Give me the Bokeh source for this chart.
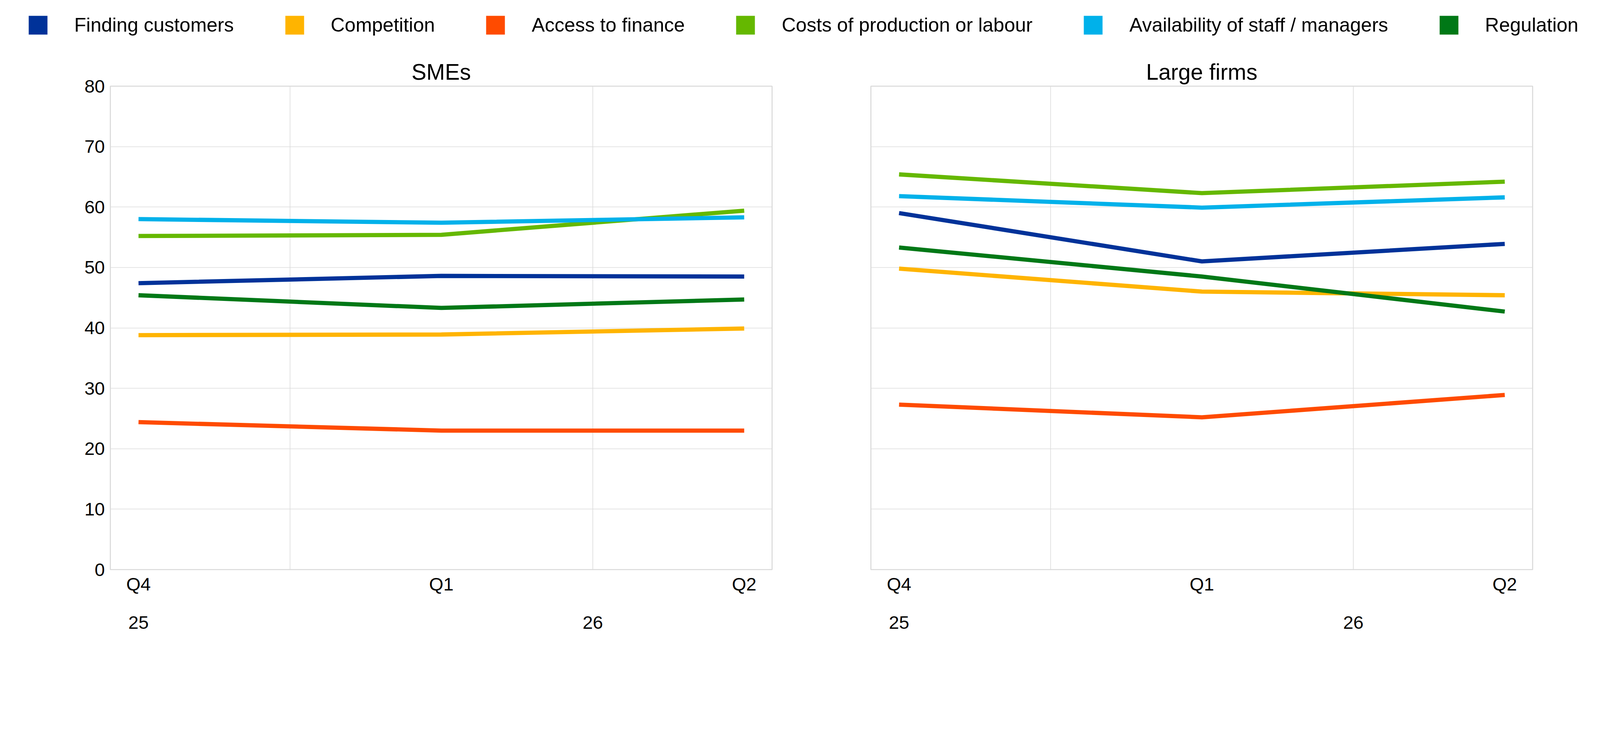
from bokeh.plotting import figure
from bokeh.layouts import column, row
from bokeh.models import Range1d, FixedTicker, LinearAxis, Legend, LegendItem
from bokeh.embed import file_html
from bokeh.resources import INLINE

FONT = "Liberation Sans"
S = 0.87  # css px per reference px


def px(v):
    return int(round(v * S))


quarters = ["Q4", "Q1", "Q2"]
years = ["25", "26"]
year_ticks = [0, 1.5]

series = ["Finding customers", "Competition", "Access to finance",
          "Costs of production or labour", "Availability of staff / managers", "Regulation"]
colors = ["#003299", "#ffb400", "#ff4b00", "#65b800", "#00b1ea", "#007816"]

# SMEs
sme_finding = [47.4, 48.6, 48.5]
sme_competition = [38.8, 38.9, 39.9]
sme_finance = [24.4, 23.0, 23.0]
sme_costs = [55.2, 55.4, 59.4]
sme_staff = [58.0, 57.4, 58.3]
sme_regulation = [45.4, 43.3, 44.7]

# Large firms
large_finding = [59.0, 51.0, 53.9]
large_competition = [49.8, 46.0, 45.4]
large_finance = [27.3, 25.2, 28.9]
large_costs = [65.4, 62.3, 64.2]
large_staff = [61.8, 59.9, 61.6]
large_regulation = [53.3, 48.5, 42.7]

sme = [sme_finding, sme_competition, sme_finance, sme_costs, sme_staff, sme_regulation]
large = [large_finding, large_competition, large_finance, large_costs, large_staff, large_regulation]

# layout (css px)
TOP = 8
LEG_H = px(158) - TOP
PLOT_TOP = TOP + LEG_H
PH = px(1891) - 8 - PLOT_TOP
FW = px(1947)
L1 = px(333) - 8
R1 = px(2571) - px(2280) - 40
L2 = 40
R2 = (px(4716) - 8) - (px(2571) + FW)
W1 = L1 + FW + R1
W2 = L2 + FW + R2
BORDER_TOP = px(253) - PLOT_TOP + 8
BORDER_BOTTOM = PH - (px(1681) - PLOT_TOP) - 3


def panel(title, data, width, left, right, show_y):
    p = figure(width=width, height=PH, title=title,
               x_range=Range1d(-0.093, 2.092), y_range=Range1d(0, 80),
               output_backend="svg", toolbar_location=None,
               min_border_left=left, min_border_right=right,
               min_border_top=BORDER_TOP, min_border_bottom=BORDER_BOTTOM)
    xs = list(range(len(quarters)))
    for vals, c in zip(data, colors):
        p.line(xs, vals, line_color=c, line_width=10.8)

    p.title.text_font = FONT
    p.title.text_font_size = "57px"
    p.title.text_font_style = "normal"
    p.title.align = "center"
    p.title.text_color = "black"

    p.outline_line_color = "#d9d9d9"
    p.outline_line_width = 2.6
    p.xgrid.ticker = FixedTicker(ticks=[0.5, 1.5])
    p.ygrid.ticker = FixedTicker(ticks=list(range(0, 81, 10)))
    p.grid.grid_line_color = "#dcdcdc"
    p.grid.grid_line_width = 1.7

    xa = p.xaxis[0]
    xa.ticker = FixedTicker(ticks=xs)
    xa.major_label_overrides = {i: q for i, q in enumerate(quarters)}
    ya2 = LinearAxis(ticker=FixedTicker(ticks=year_ticks),
                     major_label_overrides=dict(zip(year_ticks, years)))
    p.add_layout(ya2, "below")
    for ax in (xa, ya2):
        ax.axis_line_color = None
        ax.major_tick_line_color = None
        ax.minor_tick_line_color = None
        ax.major_tick_out = 0
        ax.major_label_text_font = FONT
        ax.major_label_text_font_size = "47px"
        ax.major_label_text_color = "black"
    xa.major_label_standoff = 10
    ya2.major_label_standoff = 53

    ya = p.yaxis[0]
    if show_y:
        ya.ticker = FixedTicker(ticks=list(range(0, 81, 10)))
        ya.axis_line_color = None
        ya.major_tick_line_color = None
        ya.minor_tick_line_color = None
        ya.major_tick_out = 0
        ya.major_label_standoff = 14
        ya.major_label_text_font = FONT
        ya.major_label_text_font_size = "47px"
        ya.major_label_text_color = "black"
    else:
        ya.visible = False
    return p


p1 = panel("SMEs", sme, W1, L1, R1, True)
p2 = panel("Large firms", large, W2, L2, R2, False)

nan = float("nan")
lf = figure(width=W1 + W2, height=LEG_H, x_axis_type=None, y_axis_type=None,
            x_range=Range1d(0, 1), y_range=Range1d(0, 1),
            output_backend="svg", toolbar_location=None, min_border=0)
lf.outline_line_color = None
items = []
for name, c in zip(series, colors):
    r = lf.quad(left=[nan], right=[nan], top=[nan], bottom=[nan],
                fill_color=c, line_color=None)
    items.append(LegendItem(label=name, renderers=[r]))
leg = Legend(items=items, orientation="horizontal", location=(67, 35),
             glyph_width=60, glyph_height=60, label_height=60,
             label_standoff=63, spacing=125, padding=0, margin=0,
             border_line_color=None, background_fill_alpha=0,
             label_text_font=FONT, label_text_font_size="50px",
             label_text_color="black")
lf.add_layout(leg, "center")

page = column(lf, row(p1, p2))
open("out.html", "w").write(file_html(page, INLINE))
